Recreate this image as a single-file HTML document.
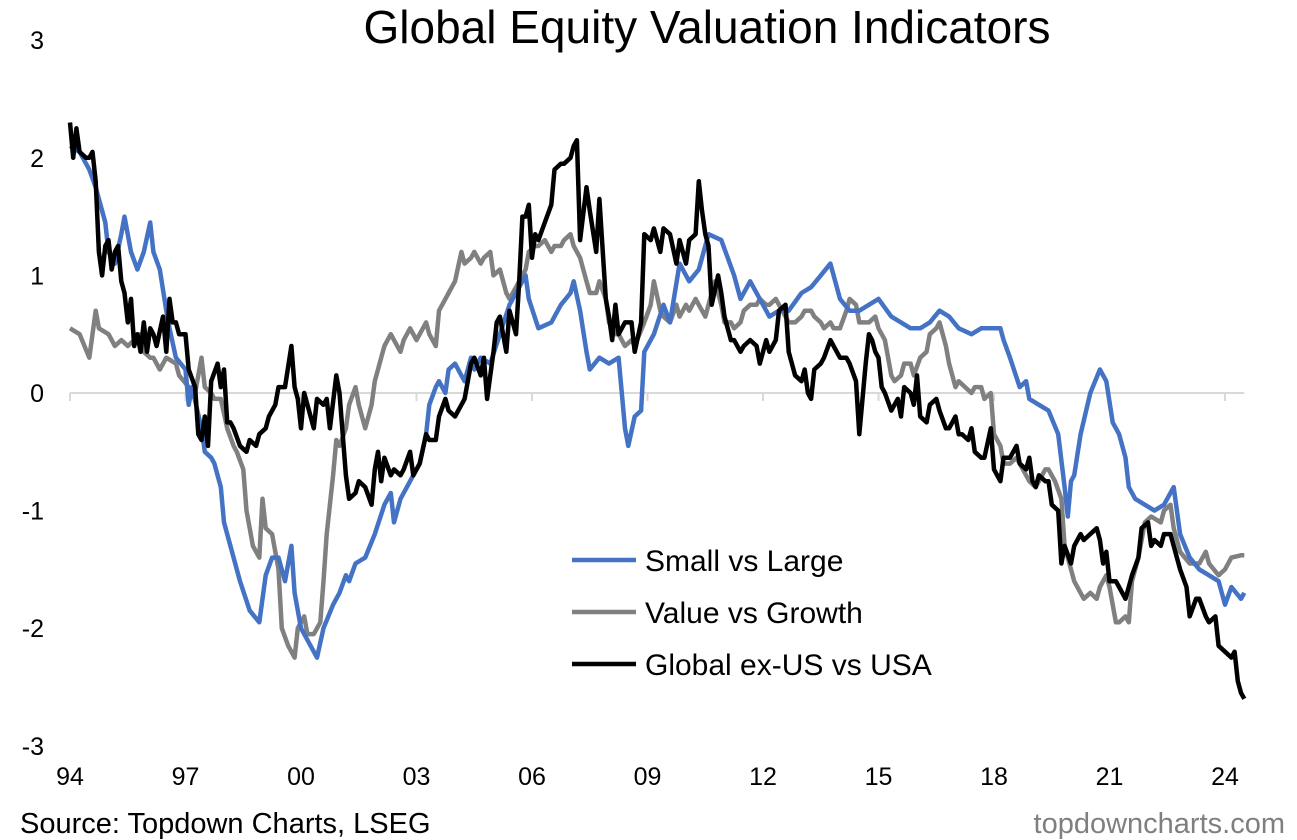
<!DOCTYPE html>
<html><head><meta charset="utf-8">
<style>
body{margin:0;background:#fff;width:1297px;height:840px;overflow:hidden;font-family:"Liberation Sans",Arial,sans-serif;}
svg{display:block}
</style></head>
<body>
<svg id="chart" width="1297" height="840" xmlns="http://www.w3.org/2000/svg">
<text x="707" y="43" font-size="46" text-anchor="middle" fill="#000">Global Equity Valuation Indicators</text>
<g id="yaxis"></g>
<g id="xaxis"></g>
<g id="series"></g>
<g>
<line x1="572" y1="560" x2="636" y2="560" stroke="#4472C4" stroke-width="4.5"/>
<text x="645" y="571" font-size="30">Small vs Large</text>
<line x1="572" y1="612" x2="636" y2="612" stroke="#808080" stroke-width="4.5"/>
<text x="645" y="623" font-size="30">Value vs Growth</text>
<line x1="572" y1="664" x2="636" y2="664" stroke="#000" stroke-width="4.5"/>
<text x="645" y="675" font-size="30">Global ex-US vs USA</text>
</g>
<text x="20" y="833" font-size="29">Source: Topdown Charts, LSEG</text>
<text x="1285" y="833" font-size="29" text-anchor="end" fill="#7f7f7f">topdowncharts.com</text>
</svg>
<script>
// months since Jan 1994
const yTicks=[3,2,1,0,-1,-2,-3];
const xTickMonths=[0,36,72,108,144,180,216,252,288,324,360];
const xTickLabels=["94","97","00","03","06","09","12","15","18","21","24"];

const smallDates=[0,3,6,8,9,11,12,14,16,17,19,21,23,25,26,28,30,31,33,36,37,38,41,42,44,45,47,48,50,53,56,59,61,63,65,67,69,70,72,75,77,79,82,84,86,87,89,92,95,98,100,101,103,106,109,111,112,114,115,117,118,120,122,123,125,126,128,131,134,137,140,142,143,146,150,153,156,157,159,161,162,165,168,171,173,174,176,178,179,182,185,187,190,193,196,199,203,207,209,212,215,218,221,224,228,231,234,237,240,243,246,249,252,256,259,262,265,268,271,274,277,281,284,287,290,291,293,296,298,299,302,305,308,310,311,312,313,315,318,321,323,325,327,329,330,332,335,338,341,344,346,349,352,355,358,360,362,365,366];
const smallValues=[2.1,2.05,1.9,1.75,1.65,1.45,1.2,1.1,1.35,1.5,1.2,1.05,1.2,1.45,1.2,1.05,0.7,0.55,0.3,0.2,-0.1,0.05,-0.3,-0.5,-0.55,-0.6,-0.8,-1.1,-1.3,-1.6,-1.85,-1.95,-1.55,-1.4,-1.4,-1.6,-1.3,-1.7,-2.0,-2.15,-2.25,-2.0,-1.8,-1.7,-1.55,-1.6,-1.45,-1.4,-1.2,-0.95,-0.85,-1.1,-0.9,-0.75,-0.6,-0.35,-0.1,0.05,0.1,0.0,0.2,0.25,0.15,0.1,0.3,0.2,0.3,0.25,0.5,0.75,0.9,1.0,0.8,0.55,0.6,0.75,0.85,0.95,0.7,0.35,0.2,0.3,0.25,0.3,-0.3,-0.45,-0.2,-0.15,0.35,0.5,0.75,0.6,1.1,0.95,1.05,1.35,1.3,1.0,0.8,0.95,0.8,0.65,0.7,0.7,0.85,0.9,1.0,1.1,0.8,0.7,0.7,0.75,0.8,0.65,0.6,0.55,0.55,0.6,0.7,0.65,0.55,0.5,0.55,0.55,0.55,0.45,0.3,0.05,0.1,-0.05,-0.1,-0.15,-0.35,-0.8,-1.05,-0.75,-0.7,-0.35,0.0,0.2,0.1,-0.25,-0.35,-0.55,-0.8,-0.9,-0.95,-1.0,-0.95,-0.8,-1.2,-1.4,-1.5,-1.55,-1.6,-1.8,-1.65,-1.75,-1.7];

const valueDates=[0,3,6,8,9,12,14,16,18,20,22,23,25,26,28,30,33,34,37,39,41,42,44,45,47,49,51,52,54,55,57,59,60,61,63,65,66,68,70,71,73,74,76,78,79,80,82,83,84,86,87,89,90,92,94,95,97,98,100,101,103,104,106,108,109,111,112,114,115,117,118,120,122,123,125,126,128,129,131,132,134,136,137,139,140,142,143,145,146,148,150,151,153,154,156,157,159,161,162,164,165,167,168,170,171,173,175,176,179,181,182,184,185,187,189,190,192,193,195,196,198,199,201,203,204,206,207,209,210,212,214,215,217,218,220,221,223,224,226,228,229,231,232,234,235,237,238,240,242,243,245,246,248,249,251,252,254,256,257,259,260,262,263,265,267,268,270,271,273,274,276,277,279,281,282,284,285,287,288,290,291,293,295,296,298,299,301,302,304,305,307,309,310,312,313,315,316,318,320,321,323,324,326,327,329,330,331,333,335,337,340,341,343,344,346,349,352,354,355,358,360,362,365,366];
const valueValues=[0.55,0.5,0.3,0.7,0.55,0.5,0.4,0.45,0.4,0.45,0.5,0.35,0.3,0.3,0.2,0.3,0.25,0.15,0.05,0,0.3,0.05,0,-0.05,-0.05,-0.3,-0.45,-0.5,-0.65,-1.0,-1.3,-1.4,-0.9,-1.15,-1.2,-1.5,-2.0,-2.15,-2.25,-2.0,-1.9,-2.05,-2.05,-1.95,-1.6,-1.2,-0.7,-0.4,-0.45,-0.3,-0.1,0.05,-0.1,-0.3,-0.1,0.1,0.3,0.4,0.5,0.45,0.35,0.45,0.55,0.45,0.5,0.6,0.5,0.4,0.7,0.8,0.85,0.95,1.2,1.1,1.15,1.2,1.1,1.15,1.2,1.0,1.05,0.85,0.8,0.9,0.95,1.05,1.2,1.25,1.25,1.3,1.2,1.25,1.25,1.3,1.35,1.25,1.15,0.95,0.85,0.85,0.95,0.8,0.6,0.5,0.5,0.4,0.45,0.4,0.6,0.75,0.95,0.7,0.65,0.6,0.75,0.65,0.75,0.7,0.8,0.75,0.65,0.75,0.95,0.75,0.6,0.6,0.55,0.6,0.7,0.75,0.75,0.8,0.75,0.75,0.8,0.75,0.65,0.6,0.6,0.65,0.7,0.7,0.65,0.6,0.55,0.6,0.55,0.55,0.7,0.8,0.75,0.6,0.6,0.6,0.65,0.55,0.45,0.15,0.1,0.15,0.25,0.25,0.15,0.3,0.35,0.5,0.55,0.6,0.4,0.25,0.05,0.1,0.05,0,0.05,0.05,-0.05,0,-0.35,-0.45,-0.6,-0.6,-0.55,-0.6,-0.7,-0.75,-0.8,-0.75,-0.65,-0.65,-0.75,-0.9,-1.3,-1.5,-1.6,-1.7,-1.75,-1.7,-1.75,-1.65,-1.55,-1.65,-1.95,-1.95,-1.9,-1.95,-1.6,-1.4,-1.1,-1.05,-1.1,-1.0,-0.95,-1.15,-1.35,-1.45,-1.45,-1.35,-1.45,-1.55,-1.5,-1.4,-1.38,-1.38];

const globalDates=[0,1,2,3,5,6,7,8,9,10,11,12,13,14,15,16,17,18,19,20,21,22,23,24,25,26,27,29,30,31,32,33,34,36,37,39,40,41,42,43,44,46,47,48,49,50,51,53,55,56,58,59,61,62,64,65,67,69,70,71,72,73,75,76,77,79,80,81,83,84,86,87,89,90,92,94,95,96,97,98,100,101,103,104,106,107,109,111,112,114,115,117,118,120,122,123,125,126,128,129,130,132,133,134,136,137,139,140,141,142,143,144,145,146,148,150,151,153,154,156,157,158,159,161,162,164,165,167,168,169,170,171,173,175,176,178,179,181,182,184,185,187,189,190,192,193,195,196,197,198,199,200,202,203,204,206,207,209,210,212,214,215,217,218,220,221,223,224,226,228,229,230,231,232,234,235,237,238,240,242,243,245,246,247,248,249,250,251,252,253,254,256,257,258,259,260,262,263,264,265,267,268,270,271,273,274,276,277,278,280,281,282,284,285,287,288,290,291,293,295,296,298,299,300,301,302,304,305,306,308,309,310,312,313,315,316,320,321,322,323,324,326,327,329,331,333,334,336,337,338,340,341,343,344,346,348,349,351,352,354,355,357,358,360,362,363,364,365,366];
const globalValues=[2.3,2.0,2.25,2.05,2.0,2.0,2.05,1.8,1.2,1.0,1.25,1.3,1.05,1.2,1.25,0.95,0.85,0.6,0.8,0.4,0.5,0.35,0.6,0.35,0.55,0.5,0.4,0.65,0.35,0.8,0.6,0.6,0.5,0.5,0.2,0.05,-0.35,-0.4,-0.2,-0.45,0.1,0.25,0.05,0.2,-0.25,-0.25,-0.3,-0.45,-0.5,-0.4,-0.45,-0.35,-0.3,-0.2,-0.1,0.05,0.05,0.4,0.05,-0.05,-0.3,0,-0.2,-0.3,-0.05,-0.1,-0.05,-0.3,0.15,0,-0.7,-0.9,-0.85,-0.75,-0.8,-0.95,-0.65,-0.5,-0.75,-0.55,-0.7,-0.65,-0.7,-0.65,-0.5,-0.7,-0.6,-0.35,-0.4,-0.4,-0.2,-0.05,-0.15,-0.2,-0.1,-0.05,0.25,0.3,0.15,0.3,-0.05,0.35,0.6,0.65,0.35,0.7,0.5,0.95,1.5,1.5,1.6,1.15,1.35,1.3,1.45,1.6,1.9,1.95,1.95,2.0,2.1,2.15,1.3,1.75,1.55,1.2,1.65,0.8,0.65,0.45,0.75,0.5,0.6,0.6,0.35,0.6,1.35,1.3,1.4,1.2,1.4,1.35,1.1,1.3,1.1,1.3,1.35,1.8,1.55,1.35,1.25,0.75,1.0,0.85,0.65,0.45,0.45,0.35,0.4,0.45,0.4,0.25,0.45,0.35,0.45,0.7,0.75,0.35,0.15,0.1,0.2,0,-0.05,0.2,0.25,0.3,0.45,0.4,0.3,0.3,0.25,0.1,-0.35,-0.05,0.25,0.5,0.45,0.35,0.3,0.05,0,-0.15,-0.1,-0.05,-0.2,0.05,0,-0.1,0.15,-0.2,-0.25,-0.1,-0.05,-0.15,-0.3,-0.3,-0.2,-0.35,-0.35,-0.4,-0.3,-0.5,-0.55,-0.55,-0.3,-0.65,-0.75,-0.55,-0.55,-0.45,-0.6,-0.65,-0.55,-0.75,-0.8,-0.7,-0.75,-0.75,-0.95,-1.0,-1.45,-1.3,-1.45,-1.3,-1.2,-1.25,-1.15,-1.25,-1.45,-1.35,-1.6,-1.6,-1.65,-1.75,-1.55,-1.4,-1.15,-1.1,-1.3,-1.25,-1.3,-1.2,-1.2,-1.3,-1.5,-1.65,-1.9,-1.75,-1.75,-1.9,-1.95,-1.9,-2.15,-2.2,-2.25,-2.2,-2.45,-2.55,-2.6];

const NS="http://www.w3.org/2000/svg";
const X0=70, PXM=38.5/12, Y0=393, PYU=117.6;
function xScale(m){return X0+m*PXM;}
function yScale(v){return Y0-v*PYU;}

const yAxis=document.getElementById('yaxis');
yTicks.forEach(function(t){
  const tx=document.createElementNS(NS,'text');
  
  
  tx.setAttribute('x',44);tx.setAttribute('y',yScale(t)+9);
  tx.setAttribute('font-size','25');tx.setAttribute('text-anchor','end');
  tx.textContent=String(t);yAxis.appendChild(tx);
});
const xAxis=document.getElementById('xaxis');
const base=document.createElementNS(NS,'line');


base.setAttribute('x1',xScale(0));base.setAttribute('x2',xScale(366));
base.setAttribute('y1',yScale(0));base.setAttribute('y2',yScale(0));
base.setAttribute('stroke','#d9d9d9');base.setAttribute('stroke-width','2');
xAxis.appendChild(base);
xTickMonths.forEach(function(m,i){
  const tk=document.createElementNS(NS,'line');
  
  
  tk.setAttribute('x1',xScale(m));tk.setAttribute('x2',xScale(m));
  tk.setAttribute('y1',yScale(0));tk.setAttribute('y2',yScale(0)+8);
  tk.setAttribute('stroke','#d9d9d9');tk.setAttribute('stroke-width','2');
  xAxis.appendChild(tk);
  const tx=document.createElementNS(NS,'text');
  
  
  tx.setAttribute('x',xScale(m));tx.setAttribute('y',785);
  tx.setAttribute('font-size','25');tx.setAttribute('text-anchor','middle');
  tx.textContent=xTickLabels[i];xAxis.appendChild(tx);
});
const g=document.getElementById('series');
function draw(dates,vals,color,name){
  let d='';
  for(let i=0;i<dates.length;i++){d+=(i?'L':'M')+xScale(dates[i]).toFixed(1)+','+yScale(vals[i]).toFixed(1);}
  const p=document.createElementNS(NS,'path');
  
  
  p.setAttribute('d',d);p.setAttribute('fill','none');
  p.setAttribute('stroke',color);p.setAttribute('stroke-width','4.5');
  p.setAttribute('stroke-linejoin','round');
  g.appendChild(p);
}
draw(valueDates,valueValues,'#808080','value-vs-growth-line');
draw(smallDates,smallValues,'#4472C4','small-vs-large-line');
draw(globalDates,globalValues,'#000000','global-ex-us-vs-usa-line');
</script>
</body></html>
